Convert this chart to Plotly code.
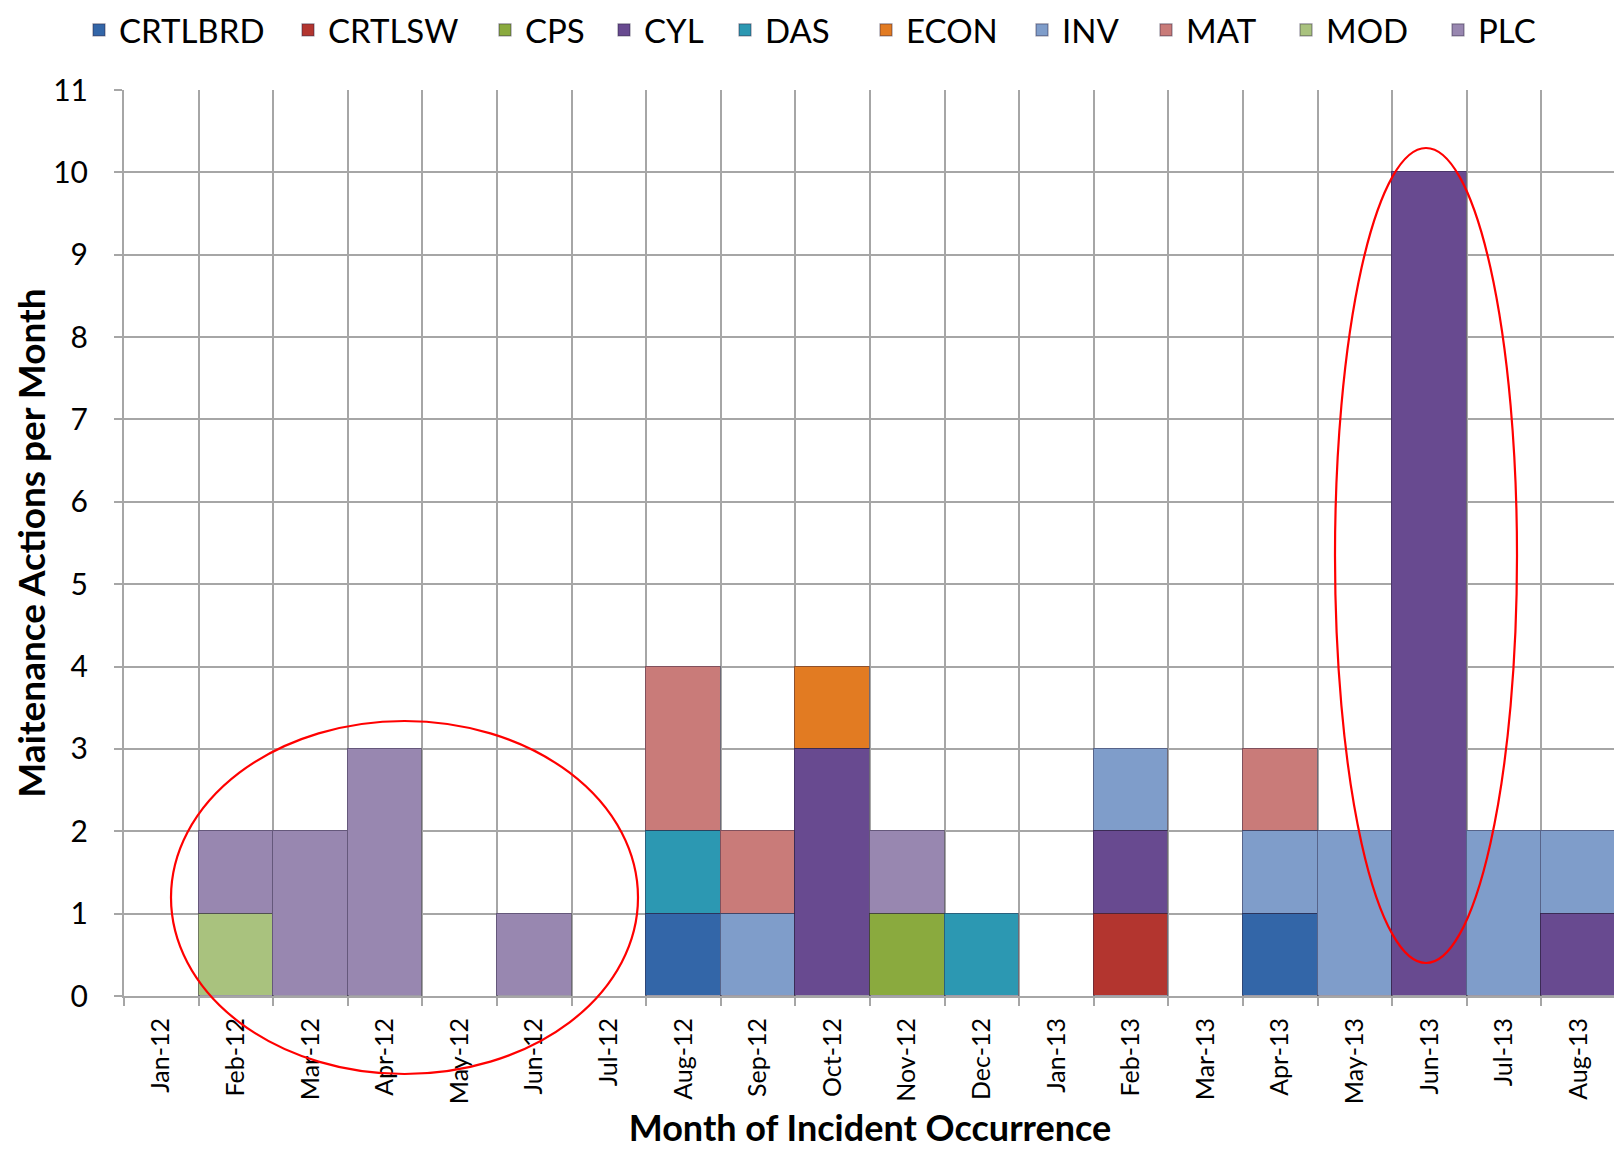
import plotly.graph_objects as go

months = ["Jan-12", "Feb-12", "Mar-12", "Apr-12", "May-12", "Jun-12", "Jul-12", "Aug-12",
          "Sep-12", "Oct-12", "Nov-12", "Dec-12", "Jan-13", "Feb-13", "Mar-13", "Apr-13",
          "May-13", "Jun-13", "Jul-13", "Aug-13"]

CRTLBRD = [0, 0, 0, 0, 0, 0, 0, 1, 0, 0, 0, 0, 0, 0, 0, 1, 0, 0, 0, 0]
CRTLSW  = [0, 0, 0, 0, 0, 0, 0, 0, 0, 0, 0, 0, 0, 1, 0, 0, 0, 0, 0, 0]
CPS     = [0, 0, 0, 0, 0, 0, 0, 0, 0, 0, 1, 0, 0, 0, 0, 0, 0, 0, 0, 0]
CYL     = [0, 0, 0, 0, 0, 0, 0, 0, 0, 3, 0, 0, 0, 1, 0, 0, 0, 10, 0, 1]
DAS     = [0, 0, 0, 0, 0, 0, 0, 1, 0, 0, 0, 1, 0, 0, 0, 0, 0, 0, 0, 0]
ECON    = [0, 0, 0, 0, 0, 0, 0, 0, 0, 1, 0, 0, 0, 0, 0, 0, 0, 0, 0, 0]
INV     = [0, 0, 0, 0, 0, 0, 0, 0, 1, 0, 0, 0, 0, 1, 0, 1, 2, 0, 2, 1]
MAT     = [0, 0, 0, 0, 0, 0, 0, 2, 1, 0, 0, 0, 0, 0, 0, 1, 0, 0, 0, 0]
MOD     = [0, 1, 0, 0, 0, 0, 0, 0, 0, 0, 0, 0, 0, 0, 0, 0, 0, 0, 0, 0]
PLC     = [0, 1, 2, 3, 0, 1, 0, 0, 0, 0, 1, 0, 0, 0, 0, 0, 0, 0, 0, 0]

series = [
    ("CRTLBRD", CRTLBRD, "#3366A8"),
    ("CRTLSW", CRTLSW, "#B3352F"),
    ("CPS", CPS, "#8AAA3E"),
    ("CYL", CYL, "#684A90"),
    ("DAS", DAS, "#2C98B2"),
    ("ECON", ECON, "#E27B22"),
    ("INV", INV, "#7F9DCA"),
    ("MAT", MAT, "#C97B79"),
    ("MOD", MOD, "#A9C27E"),
    ("PLC", PLC, "#9887B0"),
]

# legend symbol centres in the page (pixels), one per series
legend_symbol_x = [101, 310, 507, 626, 747, 888, 1044, 1168, 1308, 1460]

font_family = "Lato, 'Open Sans', sans-serif"

OFF = 8  # page body margin
W, H = 1622, 1155
L = 124 - OFF
T = 90 - OFF
R = W - (1616 - OFF)
B = H - (996 - OFF)
PW, PH = W - L - R, H - T - B

def px_x(p):
    return (p - OFF - L) / PW

def px_y(p):
    return 1 - (p - OFF - T) / PH

fig = go.Figure()
legends = {}
for i, (name, vals, color) in enumerate(series):
    lname = "legend" if i == 0 else f"legend{i + 1}"
    fig.add_trace(go.Bar(
        x=months, y=[v if v else None for v in vals], name=name, legend=lname,
        marker=dict(color=color, line=dict(color="rgba(40,30,60,0.45)", width=1.2)),
    ))
    legends[lname] = dict(
        orientation="h", x=px_x(legend_symbol_x[i] - 22), xanchor="left",
        y=px_y(30), yanchor="middle", bgcolor="rgba(0,0,0,0)",
        font=dict(size=33, family=font_family), itemwidth=30,
    )

shapes = [
    dict(type="circle", xref="paper", yref="paper",
         x0=px_x(171), x1=px_x(638), y0=px_y(1074), y1=px_y(721),
         line=dict(color="#FF0000", width=2.2)),
    dict(type="circle", xref="paper", yref="paper",
         x0=px_x(1335), x1=px_x(1517), y0=px_y(963), y1=px_y(148),
         line=dict(color="#FF0000", width=2.2)),
]

fig.update_layout(
    barmode="stack",
    bargap=0,
    showlegend=True,
    width=W, height=H,
    margin=dict(l=L, r=R, t=T, b=B, pad=0, autoexpand=False),
    paper_bgcolor="white",
    plot_bgcolor="white",
    font=dict(family=font_family, color="black"),
    shapes=shapes,
    xaxis=dict(
        type="category", tickson="boundaries", showgrid=True, gridcolor="#A6A6A6", gridwidth=2,
        ticks="outside", ticklen=8, tickcolor="#A6A6A6", tickwidth=2,
        tickangle=-90, tickfont=dict(size=25, family=font_family), ticklabelstandoff=10,
        showline=True, linecolor="#A6A6A6", linewidth=2, automargin=False,
        title=dict(text="<b>Month of Incident Occurrence</b>", font=dict(size=36, family=font_family), standoff=13),
    ),
    yaxis=dict(
        range=[0, 11], dtick=1, showgrid=True, gridcolor="#A6A6A6", gridwidth=2,
        ticks="outside", ticklen=8, tickcolor="#A6A6A6", tickwidth=2,
        tickfont=dict(size=30, family=font_family), ticklabelstandoff=20,
        showline=True, linecolor="#A6A6A6", linewidth=2, zeroline=False, automargin=False,
        title=dict(text="<b>Maitenance Actions per Month</b>", font=dict(size=37, family=font_family), standoff=16),
    ),
    **legends,
)

fig.write_html("out.html")
